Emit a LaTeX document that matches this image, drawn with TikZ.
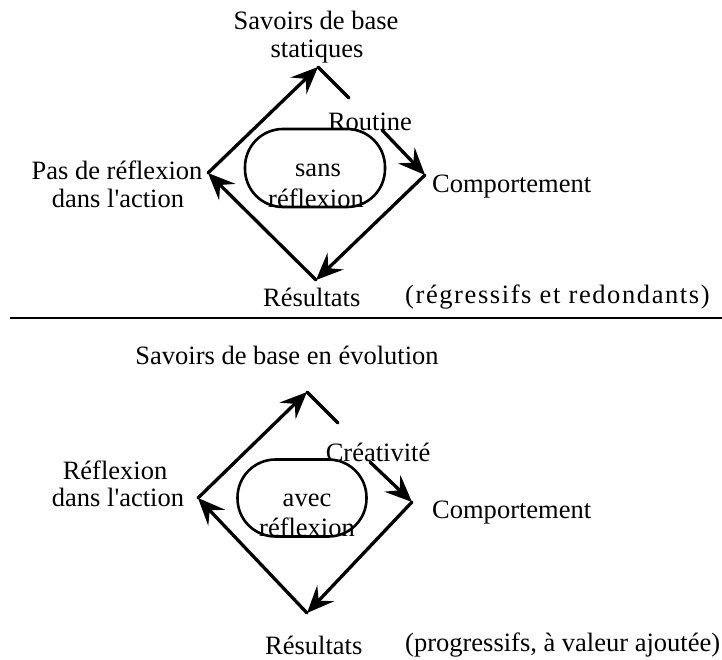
\documentclass[tikz,border=0pt]{standalone}
\usepackage{fontspec}
\setmainfont{Liberation Serif}
\newfontfamily\spacedserif[LetterSpace=6]{Liberation Serif}
% a copy of the serif without TeX mappings, for the straight apostrophe
\newfontfamily\rawserif{Liberation Serif}
\usetikzlibrary{arrows.meta}
\newcommand{\apos}{{\rawserif'}}
\begin{document}
\begin{tikzpicture}[x=1pt,y=-1pt,
  every node/.style={font=\fontsize{26.5}{30}\selectfont, inner sep=0pt},
  edge/.style={line width=3.3pt, line cap=round},
  arr/.style={edge, -{Stealth[length=27pt,width=23pt,inset=10pt]}},
  loopbox/.style={draw, line width=2.6pt, rounded corners=38pt,
                  minimum width=140pt, minimum height=78pt},
  lblw/.style={anchor=west}]
\useasboundingbox (0,0) rectangle (722,660);

% ---------- upper cycle: without reflection ----------
\coordinate (TA) at (318,67);
\coordinate (LA) at (208,173);
\coordinate (RA) at (425,175);
\coordinate (BA) at (316,280);
\coordinate (SA) at (349,98);
\coordinate (QA) at (382,130);

\node[loopbox] (cycleA) at (315,168) {};
\node (sansA) at (318,170) {sans};
\node (reflA) at (316,198) {réflexion};

\node (savA1) at (316,20) {Savoirs de base};
\node (savA2) at (317,52) {statiques};
\node (routA) at (370,122) {Routine};
\node (pasA1) at (117,170) {Pas de réflexion};
\node (pasA2) at (118,198) {dans l\apos action};
\node[lblw] (compA) at (432,187) {Comportement};
\node[lblw] (resA) at (263,297) {Résultats};
\node[lblw] (qualA) at (405,297) {\spacedserif(régressifs et redondants)};

\draw[arr] (LA) -- (TA);
\draw[edge] (TA) -- (SA);
\draw[arr] (QA) -- (RA);
\draw[arr] (RA) -- (BA);
\draw[arr] (BA) -- (LA);

% ---------- separator ----------
\coordinate (sepL) at (10,318);
\coordinate (sepR) at (722,318);
\draw[line width=2.5pt] (sepL) -- (sepR);

% ---------- lower cycle: with reflection ----------
\coordinate (TB) at (307,392);
\coordinate (LB) at (198,498);
\coordinate (RB) at (412,502);
\coordinate (BB) at (307,613);
\coordinate (SB) at (338,423);
\coordinate (QB) at (370,462);

\node[loopbox, minimum width=129pt, minimum height=77pt] (cycleB) at (302,498) {};
\node (avecB) at (307,500) {avec};
\node (reflB) at (307,527) {réflexion};

\node (savB) at (287,355) {Savoirs de base en évolution};
\node (creaB) at (378,452) {Créativité};
\node (refB1) at (115,470) {Réflexion};
\node (refB2) at (118,497) {dans l\apos action};
\node[lblw] (compB) at (432,513) {Comportement};
\node[lblw] (resB) at (265,645) {Résultats};
\node[lblw] (qualB) at (405,645) {(progressifs, à valeur ajoutée)};

\draw[arr] (LB) -- (TB);
\draw[edge] (TB) -- (SB);
\draw[arr] (QB) -- (RB);
\draw[arr] (RB) -- (BB);
\draw[arr] (BB) -- (LB);
\end{tikzpicture}
\end{document}
